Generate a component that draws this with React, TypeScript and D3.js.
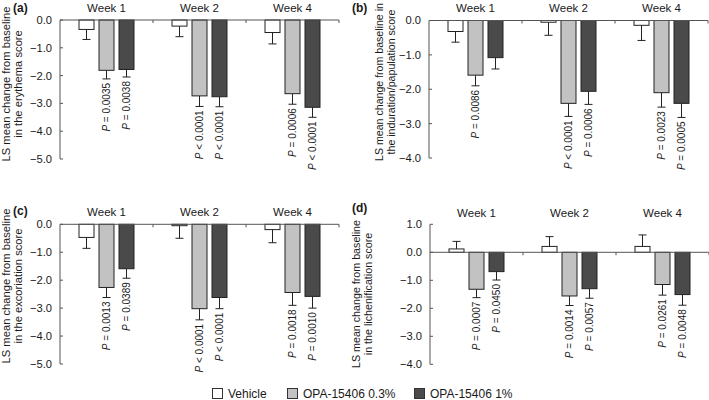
import React from "react";
import * as d3 from "d3";

const weeks = ["Week 1", "Week 2", "Week 4"];
const seriesNames = ["Vehicle", "OPA-15406 0.3%", "OPA-15406 1%"];
const seriesFill = ["#ffffff", "#c2c2c2", "#4a4a4a"];

// (a) erythema
const aVehicle = [-0.34, -0.22, -0.45];
const aVehicleErr = [0.36, 0.38, 0.41];
const aLow = [-1.81, -2.73, -2.65];
const aLowErr = [0.31, 0.38, 0.38];
const aHigh = [-1.78, -2.76, -3.14];
const aHighErr = [0.27, 0.36, 0.36];
const aLowP = ["= 0.0035", "< 0.0001", "= 0.0006"];
const aHighP = ["= 0.0038", "< 0.0001", "< 0.0001"];

// (b) induration/papulation
const bVehicle = [-0.32, -0.05, -0.14];
const bVehicleErr = [0.31, 0.38, 0.44];
const bLow = [-1.59, -2.41, -2.1];
const bLowErr = [0.31, 0.38, 0.42];
const bHigh = [-1.08, -2.06, -2.41];
const bHighErr = [0.33, 0.38, 0.41];
const bLowP = ["= 0.0086", "< 0.0001", "= 0.0023"];
const bHighP = ["", "= 0.0006", "= 0.0005"];

// (c) excoriation
const cVehicle = [-0.47, -0.05, -0.19];
const cVehicleErr = [0.39, 0.45, 0.47];
const cLow = [-2.26, -3.02, -2.44];
const cLowErr = [0.36, 0.4, 0.46];
const cHigh = [-1.59, -2.62, -2.58];
const cHighErr = [0.34, 0.4, 0.42];
const cLowP = ["= 0.0013", "< 0.0001", "= 0.0018"];
const cHighP = ["= 0.0389", "< 0.0001", "= 0.0010"];

// (d) lichenification
const dVehicle = [0.12, 0.21, 0.21];
const dVehicleErr = [0.27, 0.35, 0.41];
const dLow = [-1.32, -1.56, -1.15];
const dLowErr = [0.3, 0.34, 0.38];
const dHigh = [-0.69, -1.3, -1.51];
const dHighErr = [0.3, 0.34, 0.38];
const dLowP = ["= 0.0007", "= 0.0014", "= 0.0261"];
const dHighP = ["= 0.0450", "= 0.0057", "= 0.0048"];

const aTicks = [0, -1, -2, -3, -4, -5];
const bTicks = [0, -1, -2, -3, -4];
const cTicks = [0, -1, -2, -3, -4, -5];
const dTicks = [1, 0, -1, -2, -3, -4];

const FONT = "'Liberation Sans', Arial, sans-serif";
const AXIS = "#555";
const INK = "#1a1a1a";

type PanelProps = {
  label: string;
  labelX: number;
  labelY: number;
  titleLines: string[];
  titleX: number[];
  titleY: number;
  titleSize: number;
  x0: number;
  yTop: number;
  yBottom: number;
  domain: [number, number];
  ticks: number[];
  means: number[][];
  errs: number[][];
  pvals: (string[] | null)[];
};

function fmt(v: number) {
  const s = Math.abs(v).toFixed(1);
  return v < 0 ? "\u2212" + s : s;
}

function Panel(p: PanelProps) {
  const width = 279;
  const y = d3.scaleLinear().domain(p.domain).range([p.yTop, p.yBottom]);
  const xg = d3.scaleBand().domain(weeks).range([p.x0, p.x0 + width]).padding(0);
  const xs = d3
    .scaleBand()
    .domain(seriesNames)
    .range([xg.bandwidth() / 2 - 28, xg.bandwidth() / 2 + 28])
    .paddingInner(0.2)
    .paddingOuter(0);
  const y0 = y(0);
  const cap = 4;
  return (
    <g>
      <text x={p.labelX} y={p.labelY} fontSize={12} fontWeight="bold" fill={INK} fontFamily={FONT}>
        {p.label}
      </text>
      {p.titleLines.map((t, i) => (
        <text
          key={i}
          transform={`translate(${p.titleX[i]},${p.titleY}) rotate(-90)`}
          textAnchor="middle"
          fontSize={p.titleSize}
          fill={INK}
          fontFamily={FONT}
        >
          {t}
        </text>
      ))}
      {weeks.map((w) => (
        <text
          key={w}
          x={(xg(w) as number) + xg.bandwidth() / 2}
          y={p.yTop - (p.domain[0] > 0 ? 7 : 8.5)}
          textAnchor="middle"
          fontSize={11.5}
          fill={INK}
          fontFamily={FONT}
        >
          {w}
        </text>
      ))}
      {weeks.map((w, wi) =>
        seriesNames.map((s, si) => {
          const v = p.means[si][wi];
          const e = p.errs[si][wi];
          const bx = (xg(w) as number) + (xs(s) as number);
          const bw = xs.bandwidth();
          const cx = bx + bw / 2;
          const top = Math.min(y(v), y0);
          const h = Math.abs(y(v) - y0);
          const errEnd = v < 0 ? v - e : v + e;
          const pv = p.pvals[si];
          const lbl = pv ? pv[wi] : "";
          return (
            <g key={w + s}>
              <line x1={cx} x2={cx} y1={y(v)} y2={y(errEnd)} stroke="#222" strokeWidth={1} />
              <line x1={cx - cap} x2={cx + cap} y1={y(errEnd)} y2={y(errEnd)} stroke="#222" strokeWidth={1} />
              <rect x={bx + 0.5} y={top} width={bw - 1} height={h} fill={seriesFill[si]} stroke="#222" strokeWidth={1} />
              {lbl && (
                <text
                  transform={`translate(${cx},${y(errEnd) + 4}) rotate(-90)`}
                  textAnchor="end"
                  dy="0.35em"
                  fontSize={10}
                  fill={INK}
                  fontFamily={FONT}
                >
                  <tspan fontStyle="italic">P</tspan> {lbl}
                </text>
              )}
            </g>
          );
        })
      )}
      {/* y axis */}
      <line x1={p.x0} x2={p.x0} y1={p.yTop} y2={p.yBottom} stroke={AXIS} strokeWidth={1} />
      {p.ticks.map((t) => (
        <g key={t}>
          <line x1={p.x0} x2={p.x0 + 3} y1={y(t)} y2={y(t)} stroke={AXIS} strokeWidth={1} />
          <text x={p.x0 - 8} y={y(t)} dy="0.35em" textAnchor="end" fontSize={11.2} fill={INK} fontFamily={FONT}>
            {fmt(t)}
          </text>
        </g>
      ))}
      {/* x axis at zero */}
      <line x1={p.x0} x2={p.x0 + width} y1={y0} y2={y0} stroke={AXIS} strokeWidth={1} />
      {weeks.map((w) => {
        const xr = (xg(w) as number) + xg.bandwidth();
        return <line key={w} x1={xr} x2={xr} y1={y0} y2={y0 + 3} stroke={AXIS} strokeWidth={1} />;
      })}
    </g>
  );
}

export default function App() {
  const legendItems = [
    { x: 212, tx: 228 },
    { x: 287, tx: 303 },
    { x: 414, tx: 430 },
  ];
  return (
    <svg width={709} height={400} style={{ position: "absolute", left: 0, top: 0, background: "#fff" }}>
      <rect width={709} height={400} fill="#fff" />
      <Panel
        label="(a)"
        labelX={13}
        labelY={12}
        titleLines={["LS mean change from baseline", "in the erythema score"]}
        titleX={[10, 21.5]}
        titleY={84}
        titleSize={11.2}
        x0={60}
        yTop={20}
        yBottom={159}
        domain={[0, -5]}
        ticks={aTicks}
        means={[aVehicle, aLow, aHigh]}
        errs={[aVehicleErr, aLowErr, aHighErr]}
        pvals={[null, aLowP, aHighP]}
      />
      <Panel
        label="(b)"
        labelX={352}
        labelY={12}
        titleLines={["LS mean change from baseline in", "the induration/papulation score"]}
        titleX={[383, 394.5]}
        titleY={82}
        titleSize={10.6}
        x0={429}
        yTop={20.5}
        yBottom={158}
        domain={[0, -4]}
        ticks={bTicks}
        means={[bVehicle, bLow, bHigh]}
        errs={[bVehicleErr, bLowErr, bHighErr]}
        pvals={[null, bLowP, bHighP]}
      />
      <Panel
        label="(c)"
        labelX={13}
        labelY={215}
        titleLines={["LS mean change from baseline", "in the excoriation score"]}
        titleX={[10, 21.5]}
        titleY={286}
        titleSize={11.2}
        x0={60}
        yTop={224.3}
        yBottom={364}
        domain={[0, -5]}
        ticks={cTicks}
        means={[cVehicle, cLow, cHigh]}
        errs={[cVehicleErr, cLowErr, cHighErr]}
        pvals={[null, cLowP, cHighP]}
      />
      <Panel
        label="(d)"
        labelX={352}
        labelY={212}
        titleLines={["LS mean change from baseline", "in the lichenification score"]}
        titleX={[360, 371.5]}
        titleY={294}
        titleSize={10.7}
        x0={430}
        yTop={224.3}
        yBottom={364.3}
        domain={[1, -4]}
        ticks={dTicks}
        means={[dVehicle, dLow, dHigh]}
        errs={[dVehicleErr, dLowErr, dHighErr]}
        pvals={[null, dLowP, dHighP]}
      />
      {seriesNames.map((s, i) => (
        <g key={s}>
          <rect x={legendItems[i].x + 0.5} y={388.5} width={10} height={10} fill={seriesFill[i]} stroke="#333" strokeWidth={1} />
          <text x={legendItems[i].tx} y={397.5} fontSize={12} fill={INK} fontFamily={FONT}>
            {s}
          </text>
        </g>
      ))}
    </svg>
  );
}
